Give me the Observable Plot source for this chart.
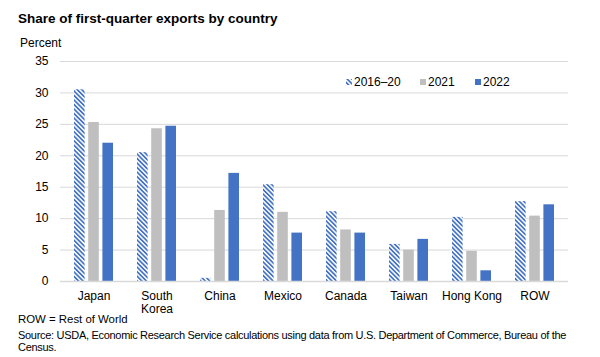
<!DOCTYPE html>
<html>
<head>
<meta charset="utf-8">
<script src="https://cdn.jsdelivr.net/npm/d3@7"></script>
<script src="https://cdn.jsdelivr.net/npm/@observablehq/plot@0.6"></script>
<style>
  body { margin: 0; background: #fff; font-family: "Liberation Sans", Arial, sans-serif; }
  #wrap { position: relative; width: 600px; height: 357px; overflow: hidden; }
  #wrap svg.chart { position: absolute; left: 0; top: 0; }
  .t { position: absolute; white-space: nowrap; color: #000; line-height: 13px; }
  #title { left: 18px; top: 11px; font-size: 13.5px; font-weight: bold; line-height: 16px; }
  #ylab { left: 20px; top: 37px; font-size: 12px; }
  #legend { position: absolute; left: 346px; top: 75px; font-size: 12px; }
  .li { position: absolute; top: 0; white-space: nowrap; }
  .sw { display: inline-block; width: 6px; height: 6px; margin-right: 2px; vertical-align: 1px; }
  #note1 { left: 18px; top: 313px; font-size: 11.4px; }
  #note2 { left: 18px; top: 329px; font-size: 11px; letter-spacing: -0.3px; }
  #note3 { left: 18px; top: 341px; font-size: 11px; letter-spacing: -0.3px; }
</style>
</head>
<body>
<div id="wrap"></div>
<script>
const countries = ["Japan", "South Korea", "China", "Mexico", "Canada", "Taiwan", "Hong Kong", "ROW"];
const seriesNames = ["2016–20", "2021", "2022"];
const v2016_20 = [30.5, 20.5, 0.5, 15.4, 11.1, 5.9, 10.2, 12.7];
const v2021 = [25.3, 24.3, 11.3, 11.0, 8.2, 5.0, 4.8, 10.4];
const v2022 = [22.0, 24.7, 17.2, 7.7, 7.7, 6.7, 1.7, 12.2];
const yTicks = [0, 5, 10, 15, 20, 25, 30, 35];
const tickLabels = {"South Korea": "South\nKorea"};

const blue = "#4472C4";
const gray = "#BFBFBF";

const rows = (vals) => countries.map((c, i) => ({country: c, value: vals[i]}));
const d0 = rows(v2016_20), d1 = rows(v2021), d2 = rows(v2022);

const chart = Plot.plot({
  width: 600,
  height: 320,
  marginTop: 61,
  marginBottom: 39,
  marginLeft: 60,
  marginRight: 32,
  style: {fontFamily: "Liberation Sans, Arial, sans-serif", fontSize: "12px", color: "#000", background: "transparent"},
  x: {domain: countries, paddingInner: 0.38, paddingOuter: 0.19, label: null},
  y: {domain: [0, 35], ticks: yTicks, label: null},
  marks: [
    Plot.gridY(yTicks, {stroke: "#d9d9d9", strokeOpacity: 1, strokeWidth: 1}),
    Plot.axisY(yTicks, {tickSize: 0, tickPadding: 12, fontSize: 12, fill: "#000", label: null}),
    Plot.axisX({tickSize: 0, tickPadding: 9, fontSize: 12, lineHeight: 1.1, fill: "#000", label: null,
      tickFormat: d => tickLabels[d] ?? d}),
    Plot.barY(d0, {x: "country", y: "value", fill: "url(#hatch)", insetLeft: 0, insetRight: 28.4}),
    Plot.barY(d1, {x: "country", y: "value", fill: gray, insetLeft: 14.2, insetRight: 14.2}),
    Plot.barY(d2, {x: "country", y: "value", fill: blue, insetLeft: 28.4, insetRight: 0}),
    Plot.ruleY([0], {stroke: "#d9d9d9", strokeWidth: 1.5})
  ]
});
chart.classList.add("chart");

const defs = d3.select(chart).insert("defs", ":first-child");
const pat = defs.append("pattern")
  .attr("id", "hatch")
  .attr("patternUnits", "userSpaceOnUse")
  .attr("width", 3.2).attr("height", 3.2)
  .attr("patternTransform", "rotate(-45)");
pat.append("rect").attr("width", 3.2).attr("height", 3.2).attr("fill", "#fff");
pat.append("rect").attr("width", 1.7).attr("height", 3.2).attr("fill", blue);

const wrap = document.getElementById("wrap");
wrap.appendChild(chart);

function addText(id, cls, text) {
  const d = document.createElement("div");
  d.id = id; d.className = cls; d.textContent = text;
  wrap.appendChild(d);
  return d;
}
addText("title", "t", "Share of first-quarter exports by country");
addText("ylab", "t", "Percent");
addText("note1", "t", "ROW = Rest of World");
addText("note2", "t", "Source: USDA, Economic Research Service calculations using data from U.S. Department of Commerce, Bureau of the");
addText("note3", "t", "Census.");

const legend = document.createElement("div");
legend.id = "legend";
const legendFills = ["url(#hatch)", gray, blue];
const legendX = [0, 74, 129];
seriesNames.forEach((name, i) => {
  const item = document.createElement("div");
  item.className = "li";
  item.style.left = legendX[i] + "px";
  item.innerHTML = `<svg class="sw" width="6" height="6"><rect width="6" height="6" fill="${legendFills[i]}"></rect></svg>`;
  item.appendChild(document.createTextNode(name));
  legend.appendChild(item);
});
wrap.appendChild(legend);
</script>
</body>
</html>
